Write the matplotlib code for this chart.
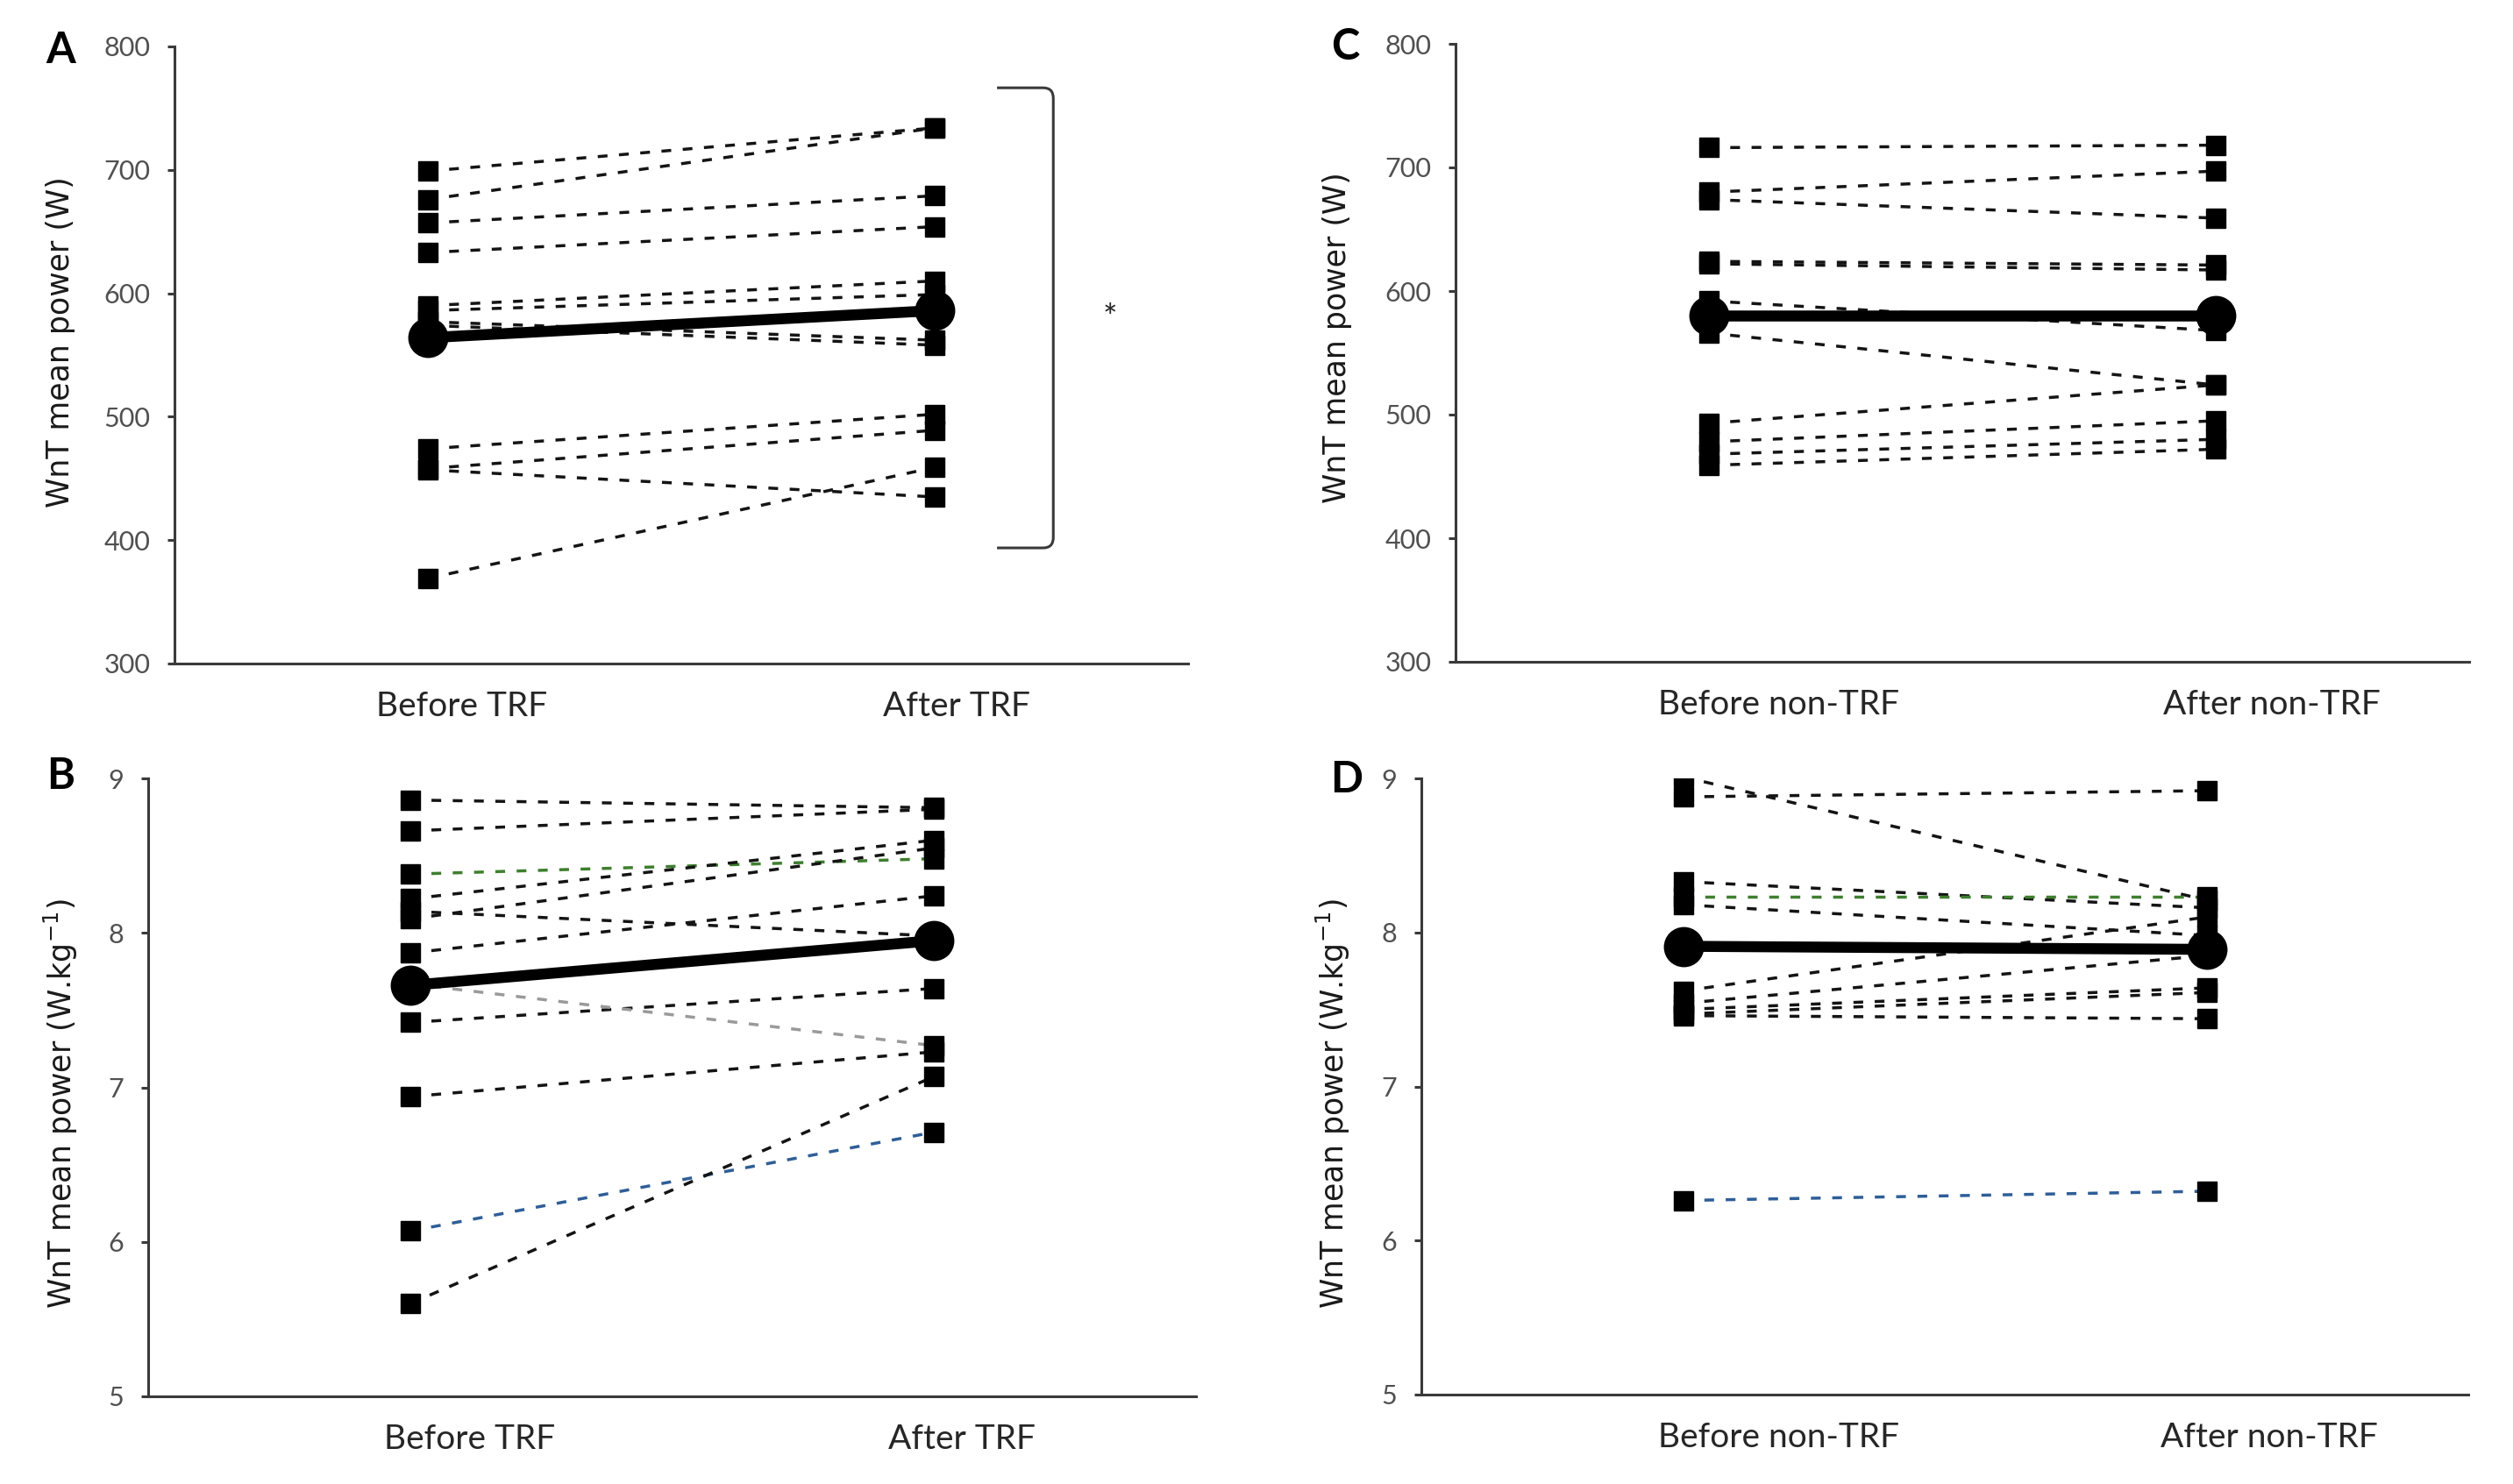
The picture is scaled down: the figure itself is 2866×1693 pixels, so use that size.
import matplotlib
matplotlib.use("Agg")
import matplotlib.pyplot as plt
from matplotlib.path import Path
from matplotlib.patches import PathPatch
import numpy as np

plt.rcParams['font.family'] = ['Lato', 'DejaVu Sans']

# ---------------- data ----------------
# A : absolute power, TRF group (W)
a_before = [699, 676, 657, 633, 590, 586, 577, 574, 474, 458, 457, 369]
a_after = [734, 734, 679, 654, 610, 599, 562, 558, 502, 489, 435, 459]
a_mean = [564, 586]

# B : relative power, TRF group (W/kg)
b_before = [8.86, 8.66, 8.38, 8.22, 8.14, 8.09, 7.87, 7.42, 7.67, 6.94, 6.07, 5.60]
b_after = [8.81, 8.80, 8.48, 8.60, 7.98, 8.55, 8.24, 7.64, 7.27, 7.23, 6.71, 7.07]
b_mean = [7.66, 7.95]

# C : absolute power, non-TRF group (W)
c_before = [716, 680, 674, 624, 622, 592, 566, 493, 478, 468, 459]
c_after = [718, 697, 659, 621, 617, 568, 524, 524, 495, 480, 472]
c_mean = [580, 580]

# D : relative power, non-TRF group (W/kg)
d_before = [9.01, 8.88, 8.33, 8.23, 8.18, 7.62, 7.54, 7.50, 7.47, 7.46, 6.26]
d_after = [8.21, 8.92, 8.16, 8.23, 7.98, 8.10, 7.85, 7.64, 7.61, 7.44, 6.32]
d_mean = [7.91, 7.89]

trf_labels = ['Before TRF', 'After TRF']
non_labels = ['Before non-TRF', 'After non-TRF']
ylab_w = 'WnT mean power (W)'
ylab_wkg = r'WnT mean power (W.kg$^{-1}$)'

# line colours of single subjects (everything else black)
DARK = '#141414'
GREEN = '#3f7f2f'
BLUE = '#2f5e97'
GREY = '#9a9a9a'
b_colors = [DARK] * 12
b_colors[2] = GREEN
b_colors[8] = GREY
b_colors[10] = BLUE
d_colors = [DARK] * 11
d_colors[3] = GREEN
d_colors[10] = BLUE

W, H = 2866, 1693
fig = plt.figure(figsize=(W / 100, H / 100), dpi=100)


def px_axes(l, r, t, b):
    return fig.add_axes([l / W, 1 - b / H, (r - l) / W, (b - t) / H])


AX_COL = '#3a3a3a'
LW_AX = 2.2
LW_DASH = 2.5
DASH = (0, (8 / LW_DASH, 9.5 / LW_DASH))


def draw_panel(ax, before, after, mean, colors, ylim, yticks, labels, label_x):
    x = np.arange(2)
    for i in range(len(before)):
        ax.plot(x, [before[i], after[i]], color=colors[i], lw=LW_DASH,
                ls=DASH, zorder=2)
    for i in range(len(before)):
        ax.plot(x, [before[i], after[i]], ls='none', marker='s', ms=15.5,
                mfc='black', mec='black', zorder=3)
    ax.plot(x, mean, color='black', lw=9, zorder=4, solid_capstyle='butt')
    ax.plot(x, mean, ls='none', marker='o', ms=32, mfc='black', mec='black',
            zorder=5)

    ax.set_xlim(-0.5, 1.5)
    ax.set_ylim(*ylim)
    ax.set_yticks(yticks)
    ax.set_xticks(label_x, labels)

    for s in ['top', 'right']:
        ax.spines[s].set_visible(False)
    for s in ['left', 'bottom']:
        ax.spines[s].set_color(AX_COL)
        ax.spines[s].set_linewidth(LW_AX)
    ax.tick_params(axis='y', direction='out', length=6, width=LW_AX,
                   color=AX_COL, pad=14, labelsize=22, labelcolor='#505050')
    ax.tick_params(axis='x', length=0, pad=22, labelsize=28,
                   labelcolor='#262626')


# panel geometry in pixels (left, right, top, bottom)
axA = px_axes(199, 1355, 53, 757)
axB = px_axes(169, 1364, 888, 1593)
axC = px_axes(1660, 2816, 50, 755)
axD = px_axes(1621, 2815, 888, 1591)

draw_panel(axA, a_before, a_after, a_mean, [DARK] * 12, (300, 800),
           range(300, 801, 100), trf_labels, [0.066, 1.043])
draw_panel(axB, b_before, b_after, b_mean, b_colors, (5, 9),
           range(5, 10), trf_labels, [0.114, 1.053])
draw_panel(axC, c_before, c_after, c_mean, [DARK] * 11, (300, 800),
           range(300, 801, 100), non_labels, [0.137, 1.11])
draw_panel(axD, d_before, d_after, d_mean, d_colors, (5, 9),
           range(5, 10), non_labels, [0.182, 1.12])

# bracket + asterisk on panel A
x0, x1 = 1.123, 1.234
y_top, y_bot = 766.5, 393.7
rx, ry = 0.02, 8.5
verts = [(x0, y_top), (x1 - rx, y_top), (x1, y_top), (x1, y_top - ry),
         (x1, y_bot + ry), (x1, y_bot), (x1 - rx, y_bot), (x0, y_bot)]
codes = [Path.MOVETO, Path.LINETO, Path.CURVE3, Path.CURVE3,
         Path.LINETO, Path.CURVE3, Path.CURVE3, Path.LINETO]
axA.add_patch(PathPatch(Path(verts, codes), fill=False, ec=AX_COL,
                        lw=LW_AX, capstyle='butt', joinstyle='round'))
axA.text(1.346, 571, '*', ha='center', va='baseline', fontsize=28,
         color='#262626')

# y-axis titles
for xp, yp, txt in [(69, 390, ylab_w), (69, 1259, ylab_wkg),
                    (1525, 385, ylab_w), (1520, 1259, ylab_wkg)]:
    fig.text(xp / W, 1 - yp / H, txt, rotation=90, ha='center', va='center',
             fontsize=25, family='DejaVu Sans', color='#1a1a1a')

# panel letters
for xp, yp, txt in [(69, 58, 'A'), (69, 886, 'B'), (1534, 54, 'C'),
                    (1536, 889, 'D')]:
    fig.text(xp / W, 1 - yp / H, txt, ha='center', va='center',
             fontsize=35, fontweight='bold', color='black')

fig.savefig('out.png', dpi=100, facecolor='white')
